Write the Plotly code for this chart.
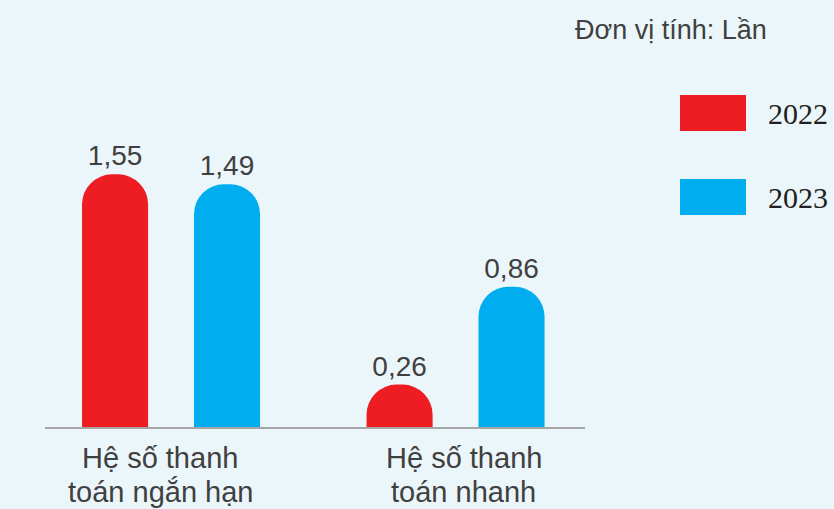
import plotly.graph_objects as go

categories = ["Hệ số thanh<br>toán ngắn hạn", "Hệ số thanh<br>toán nhanh"]
series_names = ["2022", "2023"]
values_2022 = [1.55, 0.26]
values_2023 = [1.49, 0.86]
colors = ["#EE1D24", "#00AEEF"]
unit_label = "Đơn vị tính: Lần"

W, H = 834, 509
ML, MR, MT, MB = 45, 249, 60, 82
PW, PH = W - ML - MR, H - MT - MB

def px(x):
    return (x - ML) / PW

def py(y):
    return 1 - (y - MT) / PH

xpos = [0, 1]
fig = go.Figure()
for name, vals, col in zip(series_names, [values_2022, values_2023], colors):
    fig.add_trace(go.Bar(
        x=xpos, y=vals, name=name,
        marker=dict(color=col, cornerradius=30, line=dict(width=0)),
        texttemplate="%{y:.2f}", textposition="outside",
        textfont=dict(family="Liberation Sans, Arial", size=28, color="#404040"),
        cliponaxis=False, showlegend=False, hoverinfo="skip",
    ))

annotations = []
for i, cat in enumerate(categories):
    for j, line in enumerate(cat.split("<br>")):
        annotations.append(dict(
            x=xpos[i], y=0, xref="x", yref="y", xshift=[-11, 8][i],
            yshift=-31 - 34 * j,
            text=line, showarrow=False, yanchor="middle", xanchor="center",
            font=dict(family="Liberation Sans, Arial", size=29, color="#404040"),
        ))
annotations.append(dict(
    x=px(769), y=py(30), xref="paper", yref="paper", text=unit_label,
    showarrow=False, xanchor="right", yanchor="middle",
    font=dict(family="Liberation Sans, Arial", size=27, color="#404040"),
))
shapes = []
for k, (name, col) in enumerate(zip(series_names, colors)):
    y0 = 95 + 84 * k
    shapes.append(dict(type="rect", xref="paper", yref="paper",
                       x0=px(680), x1=px(746), y0=py(y0), y1=py(y0 + 36),
                       fillcolor=col, line=dict(width=0)))
    annotations.append(dict(
        x=px(766), y=py(y0 + 18), xref="paper", yref="paper", text=name,
        showarrow=False, xanchor="left", yanchor="middle",
        font=dict(family="Liberation Serif, serif", size=30, color="#231F20"),
    ))

fig.update_layout(
    width=W, height=H,
    margin=dict(l=ML, r=MR, t=MT, b=MB),
    paper_bgcolor="#EBF6FA", plot_bgcolor="#EBF6FA",
    barmode="group", bargap=0.213, bargroupgap=0.41,
    separators=",.",
    xaxis=dict(range=[-0.443, 1.455], showgrid=False, zeroline=False,
               showticklabels=False, ticks="", showline=True,
               linecolor="#A6A6A6", linewidth=2, fixedrange=True),
    yaxis=dict(range=[0, PH / 163], showgrid=False, zeroline=False,
               showticklabels=False, ticks="", showline=False, fixedrange=True),
    annotations=annotations, shapes=shapes,
)

fig.write_html("out.html", config={"displayModeBar": False},
               post_script="document.body.style.margin='0';document.body.style.background='#EBF6FA';")
